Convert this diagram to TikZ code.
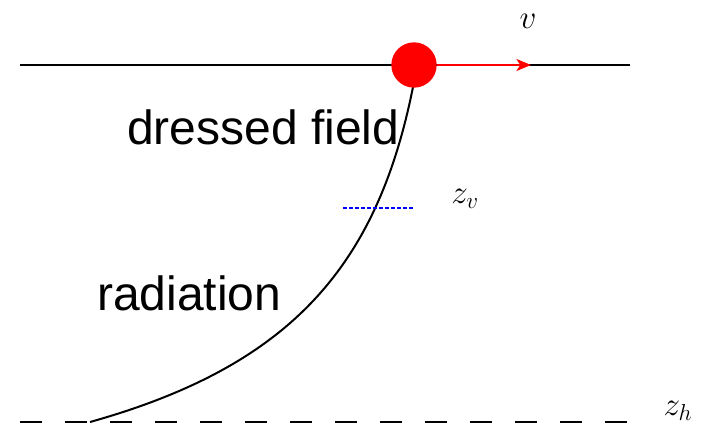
\documentclass[tikz,border=0pt]{standalone}
\usepackage{fontspec}
\setmainfont{Liberation Sans}
\usetikzlibrary{arrows.meta}
\begin{document}
\begin{tikzpicture}[x=0.75pt,y=-0.75pt,
  lbl/.style={inner sep=0pt,font=\fontsize{36}{43}\selectfont},
  mathlbl/.style={inner sep=0pt,font=\fontsize{26}{31}\selectfont},
  thinline/.style={line width=1.5pt},
]
\useasboundingbox (0,0) rectangle (702,424);
% top line
\coordinate (tl) at (20,65);
\coordinate (tr) at (630,65);
\draw[thinline] (tl) -- (tr);
% bottom dashed line
\coordinate (bl) at (20,422);
\coordinate (br) at (630,422);
\draw[line width=1.5pt,dash pattern=on 16.5pt off 17.25pt] (bl) -- (br);
% curve
\coordinate (cs) at (413,87);
\coordinate (ce) at (90,422);
\draw[thinline] (cs) .. controls (377,267) and (290,366) .. (ce);
% blue dotted
\coordinate (bs) at (343,208);
\coordinate (be) at (415,208);
\draw[blue,line width=1.5pt,dash pattern=on 3pt off 1.5pt] (bs) -- (be);
% red arrow and dot
\node[circle,fill=red,inner sep=0pt,minimum size=34pt] (dot) at (414,65) {};
\coordinate (tip) at (531,65);
\draw[red,line width=1.5pt,-{Stealth[length=11pt,width=9pt,inset=3pt]}] (dot) -- (tip);
% labels
\node[lbl,anchor=base west] (df) at (127,145) {dressed field};
\node[lbl,anchor=base west] (rad) at (97,310) {radiation};
\node[mathlbl] (v) at (528,21) {$v$};
\node[mathlbl] (zv) at (465,199) {$z_v$};
\node[mathlbl] (zh) at (678,411) {$z_h$};
\end{tikzpicture}
\end{document}
